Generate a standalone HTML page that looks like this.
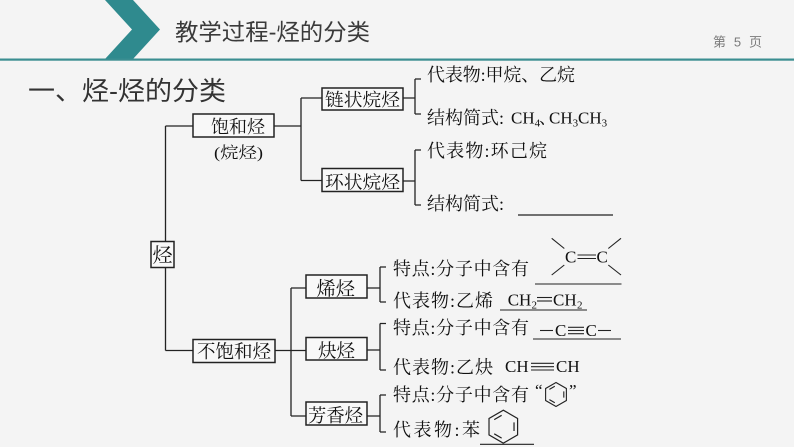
<!DOCTYPE html>
<html>
<head>
<meta charset="utf-8">
<style>
html,body{margin:0;padding:0;background:#f4f4f4;}
body{width:794px;height:447px;overflow:hidden;}
svg{display:block;}
.s{font-family:"Liberation Serif","Noto Serif CJK SC",serif;fill:#111;}
.t{font-family:"Liberation Serif",serif;fill:#111;}
.h{font-family:"Liberation Sans","Noto Sans CJK SC",sans-serif;}
</style>
</head>
<body>
<svg width="794" height="447" viewBox="0 0 794 447" xmlns="http://www.w3.org/2000/svg">
<rect x="0" y="0" width="794" height="447" fill="#f4f4f4"/>
<!-- header -->
<polygon points="105,0 133,0 160,29.5 133,59 105,59 132,29.5" fill="#2f8a8e"/>
<rect x="0" y="58.5" width="794" height="2.2" fill="#3a8e91"/>
<text class="h" x="175" y="40" font-size="23" fill="#3a3a3a" textLength="195" lengthAdjust="spacingAndGlyphs">教学过程-烃的分类</text>
<text class="h" x="713" y="46.5" font-size="13" fill="#7a7a7a" textLength="49" lengthAdjust="spacing">第 5 页</text>
<text class="h" x="28" y="100" font-size="26" fill="#333" textLength="198" lengthAdjust="spacingAndGlyphs">一、烃-烃的分类</text>

<!-- connectors -->
<g stroke="#222" stroke-width="1.3" fill="none">
  <path d="M165.5,126 V350.5 M165.5,126 H193 M165.5,350.5 H193"/>
  <path d="M274,126 H301 M301,98 V180.5 M301,98 H322 M301,180.5 H322"/>
  <path d="M403,98 H415 M415,79 V114 M415,79 H421 M415,114 H421"/>
  <path d="M403,181 H415 M415,150 V205 M415,150 H421 M415,205 H421"/>
  <path d="M275,350.5 H306 M291,288 V416 M291,288 H306 M291,416 H306"/>
  <path d="M367,288 H380 M380,267 V302 M380,267 H386 M380,302 H386"/>
  <path d="M367,350 H380 M380,323.5 V370 M380,323.5 H386 M380,370 H386"/>
  <path d="M367,416 H380 M380,395 V432 M380,395 H386 M380,432 H386"/>
</g>

<!-- boxes -->
<g stroke="#222" stroke-width="1.5" fill="#f8f8f8">
  <rect x="193" y="114" width="81" height="23"/>
  <rect x="322" y="88" width="81" height="22"/>
  <rect x="322" y="168.5" width="81" height="23"/>
  <rect x="151" y="241.5" width="23" height="26"/>
  <rect x="193" y="339.5" width="82" height="23"/>
  <rect x="306" y="275" width="61" height="23"/>
  <rect x="306" y="337.5" width="61" height="22.5"/>
  <rect x="306" y="402" width="61" height="23"/>
</g>

<!-- box text -->
<text class="s" x="211" y="133" font-size="18" textLength="54" lengthAdjust="spacingAndGlyphs">饱和烃</text>
<text class="s" x="214" y="158" font-size="16" textLength="49" lengthAdjust="spacingAndGlyphs">(烷烃)</text>
<text class="s" x="325" y="106" font-size="18" textLength="75" lengthAdjust="spacingAndGlyphs">链状烷烃</text>
<text class="s" x="325" y="188.5" font-size="18" textLength="75" lengthAdjust="spacingAndGlyphs">环状烷烃</text>
<text class="s" x="152.5" y="262" font-size="20" textLength="20" lengthAdjust="spacingAndGlyphs">烃</text>
<text class="s" x="197" y="358" font-size="18.5" textLength="74" lengthAdjust="spacingAndGlyphs">不饱和烃</text>
<text class="s" x="316.5" y="295" font-size="19" textLength="38.5" lengthAdjust="spacingAndGlyphs">烯烃</text>
<text class="s" x="318" y="357" font-size="19" textLength="37" lengthAdjust="spacingAndGlyphs">炔烃</text>
<text class="s" x="308" y="422" font-size="18.5" textLength="55" lengthAdjust="spacingAndGlyphs">芳香烃</text>

<!-- top leaves -->
<text class="s" x="427" y="81" font-size="18" textLength="148" lengthAdjust="spacing">代表物:甲烷、乙烷</text>
<text class="s" x="427" y="124" font-size="18">结构简式:</text>
<text class="t" y="123.5" font-size="17"><tspan x="511">CH</tspan><tspan x="534.6" dy="3" font-size="11">4</tspan><tspan x="539" dy="-3" style="font-family:'Noto Serif CJK SC',serif">、</tspan><tspan x="549">CH</tspan><tspan x="572.6" dy="3" font-size="11">3</tspan><tspan x="578" dy="-3">CH</tspan><tspan x="601.6" dy="3" font-size="11">3</tspan></text>
<text class="s" x="427" y="157" font-size="18" textLength="120" lengthAdjust="spacing">代表物:环己烷</text>
<text class="s" x="427" y="210" font-size="18">结构简式:</text>
<line x1="518" y1="215" x2="613" y2="215" stroke="#222" stroke-width="1.2"/>

<!-- bottom leaves -->
<text class="s" x="393" y="275" font-size="18" textLength="136" lengthAdjust="spacing">特点:分子中含有</text>
<text class="s" x="393" y="307" font-size="18" textLength="100" lengthAdjust="spacing">代表物:乙烯</text>
<text class="s" x="393" y="334" font-size="18" textLength="136" lengthAdjust="spacing">特点:分子中含有</text>
<text class="s" x="393" y="373.5" font-size="18" textLength="100" lengthAdjust="spacing">代表物:乙炔</text>
<text class="s" x="393" y="401" font-size="18" textLength="136" lengthAdjust="spacing">特点:分子中含有</text>
<text class="s" x="393" y="436" font-size="18" textLength="87" lengthAdjust="spacing">代表物:苯</text>

<!-- C=C structure -->
<g stroke="#222" stroke-width="1.1" fill="none">
  <line x1="551.7" y1="238.3" x2="564.3" y2="248.5"/>
  <line x1="551.7" y1="275" x2="564.3" y2="265"/>
  <line x1="621" y1="238.3" x2="608.3" y2="248.5"/>
  <line x1="621" y1="275" x2="608.3" y2="265"/>
  <line x1="577.5" y1="255" x2="596" y2="255"/>
  <line x1="577.5" y1="258.5" x2="596" y2="258.5"/>
  <line x1="535" y1="284" x2="621.5" y2="284"/>
</g>
<text class="t" y="262.5" font-size="17"><tspan x="565">C</tspan><tspan x="596.5">C</tspan></text>

<!-- CH2=CH2 -->
<text class="t" y="305.5" font-size="17"><tspan x="507.7">CH</tspan><tspan x="531.5" dy="3" font-size="11">2</tspan><tspan x="553" dy="-3">CH</tspan><tspan x="577" dy="3" font-size="11">2</tspan></text>
<g stroke="#222" stroke-width="1.1">
  <line x1="537" y1="297.5" x2="552" y2="297.5"/>
  <line x1="537" y1="301" x2="552" y2="301"/>
  <line x1="500" y1="310" x2="587" y2="310"/>
</g>

<!-- -C≡C- -->
<text class="t" y="336" font-size="17"><tspan x="555">C</tspan><tspan x="585.5">C</tspan></text>
<g stroke="#222" stroke-width="1.1">
  <line x1="540" y1="330.5" x2="553" y2="330.5"/>
  <line x1="568" y1="327.3" x2="584" y2="327.3"/>
  <line x1="568" y1="330.5" x2="584" y2="330.5"/>
  <line x1="568" y1="333.7" x2="584" y2="333.7"/>
  <line x1="598" y1="330.5" x2="611" y2="330.5"/>
  <line x1="533" y1="339" x2="621" y2="339"/>
</g>

<!-- CH≡CH -->
<text class="t" y="372" font-size="17"><tspan x="505">CH</tspan><tspan x="556">CH</tspan></text>
<g stroke="#222" stroke-width="1.1">
  <line x1="531" y1="363.3" x2="554" y2="363.3"/>
  <line x1="531" y1="366.7" x2="554" y2="366.7"/>
  <line x1="531" y1="370" x2="554" y2="370"/>
</g>

<!-- benzene quotes -->
<text class="t" x="535" y="396" font-size="17">“</text>
<text class="t" x="569" y="396" font-size="17">”</text>

<!-- small benzene -->
<g transform="translate(556,394.5) scale(1.2)" stroke="#222" fill="none">
  <path vector-effect="non-scaling-stroke" stroke-width="1.1" d="M0,-10 L8.66,-5 L8.66,5 L0,10 L-8.66,5 L-8.66,-5 Z"/>
  <path vector-effect="non-scaling-stroke" stroke-width="1.1" d="M-5.5,-4.3 L-1,-6.9 M6.5,-2.6 L6.5,2.6 M-1,6.9 L-5.5,4.3"/>
</g>
<!-- large benzene -->
<g transform="translate(503.3,426.7) scale(1.65)" stroke="#222" fill="none">
  <path vector-effect="non-scaling-stroke" stroke-width="1.2" d="M0,-10 L8.66,-5 L8.66,5 L0,10 L-8.66,5 L-8.66,-5 Z"/>
  <path vector-effect="non-scaling-stroke" stroke-width="1.2" d="M-5.5,-4.3 L-1,-6.9 M6.5,-2.6 L6.5,2.6 M-1,6.9 L-5.5,4.3"/>
</g>
<line x1="480" y1="444.3" x2="534" y2="444.3" stroke="#222" stroke-width="1.2"/>
</svg>
</body>
</html>
